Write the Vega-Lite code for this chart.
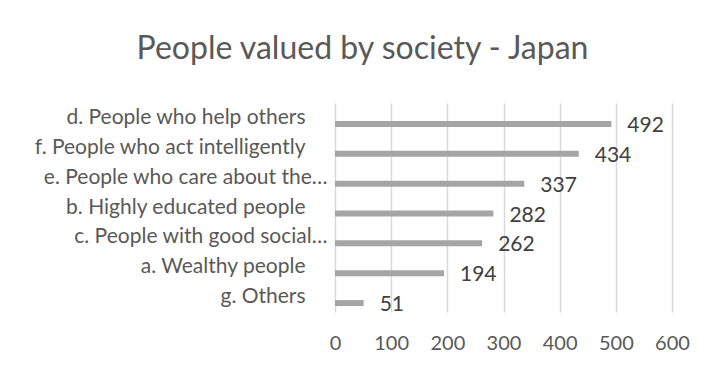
{
  "$schema": "https://vega.github.io/schema/vega-lite/v6.json",
  "autosize": {"type": "none"},
  "width": 337,
  "height": 209,
  "padding": {"left": 335, "top": 103, "right": 39, "bottom": 62},
  "background": "white",
  "title": {
    "text": "People valued by society - Japan",
    "anchor": "middle",
    "dx": -141,
    "offset": 37,
    "fontSize": 32,
    "font": "Lato",
    "fontWeight": "normal",
    "color": "#595959"
  },
  "data": {
    "values": [
      {"label": "d. People who help others", "value": 492},
      {"label": "f. People who act intelligently", "value": 434},
      {"label": "e. People who care about the…", "value": 337},
      {"label": "b. Highly educated people", "value": 282},
      {"label": "c. People with good social…", "value": 262},
      {"label": "a. Wealthy people", "value": 194},
      {"label": "g. Others", "value": 51}
    ]
  },
  "config": {
    "view": {"stroke": null},
    "font": "Lato",
    "axis": {"labelFont": "Lato", "labelColor": "#595959", "domain": false, "ticks": false, "title": null}
  },
  "encoding": {
    "y": {"field": "label", "type": "nominal", "sort": null,
      "axis": {"labelPadding": {"condition": {"test": "indexof(datum.label, '…') >= 0", "value": 8}, "value": 30},
        "labelFontSize": 21, "grid": false, "labelLimit": 330}},
    "x": {"field": "value", "type": "quantitative",
      "scale": {"domain": [0, 600], "nice": false},
      "axis": {"values": [0, 100, 200, 300, 400, 500, 600], "labelFlush": false, "labelFontSize": 20, "grid": true, "gridColor": "#d9d9d9", "gridWidth": 1.5, "labelPadding": 21}}
  },
  "layer": [
    {"mark": {"type": "bar", "size": 6, "yOffset": 6, "color": "#a5a5a5"}},
    {"mark": {"type": "text", "align": "left", "baseline": "middle", "dx": 16, "dy": 8, "fontSize": 21, "color": "#404040"},
     "encoding": {"text": {"field": "value", "type": "quantitative"}}}
  ]
}
